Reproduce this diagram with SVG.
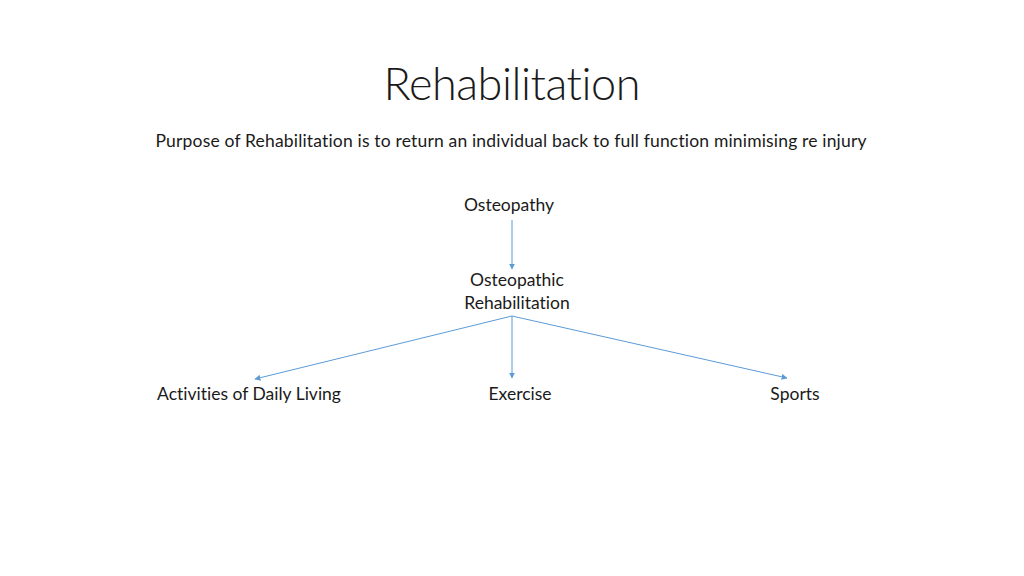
<svg xmlns="http://www.w3.org/2000/svg" width="1024" height="576" viewBox="0 0 1024 576">
<defs>
<style>
.t{font-family:Lato,"Open Sans","Liberation Sans",sans-serif;fill:#1a1a1a;text-anchor:middle;font-variant-ligatures:none;font-feature-settings:"liga" 0}
.lbl{font-size:17.5px}
.title{font-size:45px;font-weight:300}
.c{stroke:#5b9bd5;stroke-width:1;fill:none;marker-end:url(#ah)}
</style>
<marker id="ah" viewBox="0 0 10 10" refX="9" refY="5" markerWidth="6" markerHeight="6" orient="auto" markerUnits="userSpaceOnUse">
<path d="M0,0 L10,5 L0,10 z" fill="#5b9bd5"/>
</marker>
</defs>
<rect width="1024" height="576" fill="#fff"/>
<text class="t title" x="512" y="100" textLength="257">Rehabilitation</text>
<text class="t lbl" x="511" y="147" textLength="711">Purpose of Rehabilitation is to return an individual back to full function minimising re injury</text>
<g id="connectors">
<line class="c" x1="512" y1="220" x2="512" y2="269"/>
<line class="c" x1="512" y1="316" x2="255" y2="379"/>
<line class="c" x1="512" y1="316" x2="512" y2="378"/>
<line class="c" x1="512" y1="316" x2="787" y2="378"/>
</g>
<g id="osteopathy"><text class="t lbl" x="509" y="211">Osteopathy</text></g>
<g id="osteopathic-rehab"><text class="t lbl" x="517" y="286">Osteopathic</text><text class="t lbl" x="517" y="309">Rehabilitation</text></g>
<g id="adl"><text class="t lbl" x="249" y="400">Activities of Daily Living</text></g>
<g id="exercise"><text class="t lbl" x="520" y="400">Exercise</text></g>
<g id="sports"><text class="t lbl" x="795" y="400">Sports</text></g>
</svg>
